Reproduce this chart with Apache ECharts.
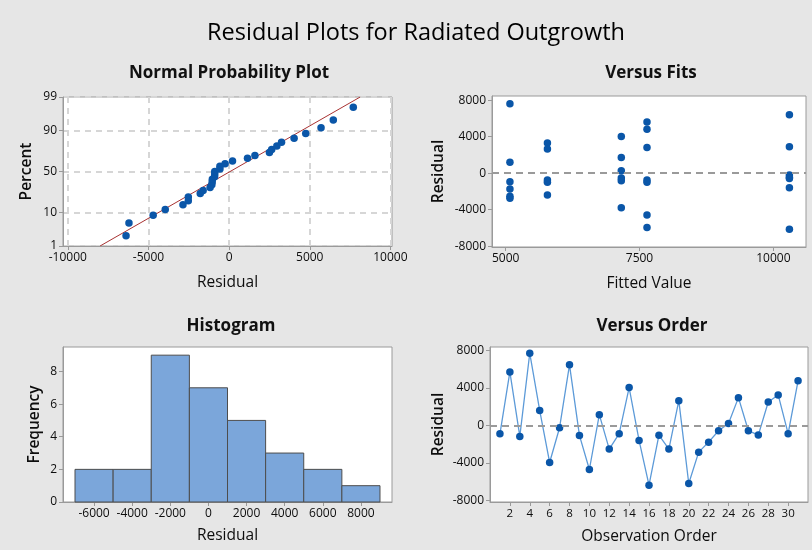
<!DOCTYPE html>
<html>
<head>
<meta charset="utf-8">
<script src="https://cdn.jsdelivr.net/npm/echarts@6/dist/echarts.min.js"></script>
<style>
html,body{margin:0;padding:0;background:#E6E6E6;}
#c{width:812px;height:550px;}
</style>
</head>
<body>
<div id="c"></div>
<script>
// ---- Data ----
// Residuals in observation order (1..31)
const orderResiduals = [-900, 5700, -1180, 7700, 1600, -3960, -250, 6460, -1070, -4710,
  1140, -2530, -890, 4030, -1610, -6390, -1050, -2530, 2640, -6210,
  -2860, -1790, -570, 210, 2960, -570, -1040, 2500, 3250, -890, 4750];
// Versus fits: fitted value and residual pairs
const fittedValues = [5080,5080,5080,5080,5080,5080,
  5780,5780,5780,5780,5780,
  7160,7160,7160,7160,7160,7160,
  7640,7640,7640,7640,7640,7640,7640,
  10300,10300,10300,10300,10300,10300,10300];
const fitResiduals = [7600,1200,-950,-1750,-2550,-2750,
  3300,2650,-750,-1000,-2400,
  4000,1700,250,-550,-850,-3800,
  5600,4800,2800,-750,-1000,-4600,-5950,
  6400,2900,-200,-450,-600,-1600,-6150];
// Histogram
const histBinStarts = [-7000,-5000,-3000,-1000,1000,3000,5000,7000];
const histBinWidth = 2000;
const histCounts = [2,2,9,7,5,3,2,1];
// Tick labels
const probTicks = [1,10,50,90,99];
const probXTicks = [-10000,-5000,0,5000,10000];
const fitsXTicks = [5000,7500,10000];
const residTicks = [-8000,-4000,0,4000,8000];
const histXTicks = [-6000,-4000,-2000,0,2000,4000,6000,8000];
const orderTicks = [2,4,6,8,10,12,14,16,18,20,22,24,26,28,30];

// ---- Helpers ----
function normInv(p){
  const a=[-3.969683028665376e+01,2.209460984245205e+02,-2.759285104469687e+02,1.383577518672690e+02,-3.066479806614716e+01,2.506628277459239e+00];
  const b=[-5.447609879822406e+01,1.615858368580409e+02,-1.556989798598866e+02,6.680131188771972e+01,-1.328068155288572e+01];
  const c=[-7.784894002430293e-03,-3.223964580411365e-01,-2.400758277161838e+00,-2.549732539343734e+00,4.374664141464968e+00,2.938163982698783e+00];
  const d=[7.784695709041462e-03,3.224671290700398e-01,2.445134137142996e+00,3.754408661907416e+00];
  const pl=0.02425, ph=1-pl; let q,r;
  if(p<pl){q=Math.sqrt(-2*Math.log(p));return (((((c[0]*q+c[1])*q+c[2])*q+c[3])*q+c[4])*q+c[5])/((((d[0]*q+d[1])*q+d[2])*q+d[3])*q+1);}
  if(p<=ph){q=p-0.5;r=q*q;return (((((a[0]*r+a[1])*r+a[2])*r+a[3])*r+a[4])*r+a[5])*q/(((((b[0]*r+b[1])*r+b[2])*r+b[3])*r+b[4])*r+1);}
  q=Math.sqrt(-2*Math.log(1-p));return -(((((c[0]*q+c[1])*q+c[2])*q+c[3])*q+c[4])*q+c[5])/((((d[0]*q+d[1])*q+d[2])*q+d[3])*q+1);
}
const n = orderResiduals.length;
const sorted = orderResiduals.slice().sort((x,y)=>x-y);
const probPoints = sorted.map((v,i)=>[v, normInv((i+1-0.3)/(n+0.4))]);
const mean = orderResiduals.reduce((s,v)=>s+v,0)/n;
const sd = Math.sqrt(orderResiduals.reduce((s,v)=>s+(v-mean)*(v-mean),0)/(n-1));
const zLo = normInv(0.01), zHi = normInv(0.99);
const zTicks = probTicks.map(p=>normInv(p/100));
const fitLine = [[mean+zLo*sd, zLo],[mean+zHi*sd, zHi]];
const fitsData = fittedValues.map((f,i)=>[f, fitResiduals[i]]);
const histData = histBinStarts.map((s,i)=>[s, s+histBinWidth, histCounts[i]]);
const orderData = orderResiduals.map((v,i)=>[i+1, v]);

const FONT = '"Open Sans", "Noto Sans", sans-serif';
const txt = '#0d0d0d';
const ptColor = '#0A56A8';
const plain = (v)=>String(Math.round(v));

function axisBase(extra, isY){
  return Object.assign({
    axisLine:{show:true, onZero:false, lineStyle:{color:'#9a9a9a', width:1}},
    axisTick:{show:true, inside:false, length:4, lineStyle:{color:'#9a9a9a'}},
    axisLabel:{color:txt, fontSize:12, fontFamily:FONT, margin:6, formatter:plain},
    splitLine:{show:false},
    nameTextStyle:{color:txt, fontSize:15.5, fontFamily:FONT, fontWeight: isY ? 600 : 'normal'},
    nameLocation:'middle'
  }, extra);
}
function deep(a,b){
  const o = Object.assign({}, a);
  for(const k in b){ if(b[k] && typeof b[k]==='object' && !Array.isArray(b[k]) && a[k] && typeof a[k]==='object'){ o[k]=Object.assign({}, a[k], b[k]); } else o[k]=b[k]; }
  return o;
}
const gridLine = {show:true, lineStyle:{color:'#D6D6D6', width:2, type:[6,5]}};
const zeroLine = {silent:true, symbol:'none', label:{show:false}, lineStyle:{color:'#9a9a9a', width:2, type:[7,5]}, data:[{yAxis:0}]};
const subTitle = {fontSize:17, fontWeight:'bold', color:'#111', fontFamily:FONT};

const chart = echarts.init(document.getElementById('c'), null, {renderer:'canvas'});
chart.setOption({
  backgroundColor:'#E6E6E6',
  animation:false,
  title:[
    {text:'Residual Plots for Radiated Outgrowth', left:411, top:16, textAlign:'center', textStyle:{fontSize:23.5, fontWeight:500, color:'#000', fontFamily:FONT}},
    {text:'Normal Probability Plot', left:224, top:60, textAlign:'center', textStyle:subTitle},
    {text:'Versus Fits', left:646, top:60, textAlign:'center', textStyle:subTitle},
    {text:'Histogram', left:226, top:313, textAlign:'center', textStyle:subTitle},
    {text:'Versus Order', left:647, top:313, textAlign:'center', textStyle:subTitle}
  ],
  grid:[
    {left:63, top:97, width:329, height:149, show:true, backgroundColor:'#fff', borderColor:'#9a9a9a', borderWidth:1},
    {left:492, top:96, width:314, height:151, show:true, backgroundColor:'#fff', borderColor:'#9a9a9a', borderWidth:1},
    {left:63, top:347, width:329, height:155, show:true, backgroundColor:'#fff', borderColor:'#9a9a9a', borderWidth:1},
    {left:490, top:347, width:318, height:155, show:true, backgroundColor:'#fff', borderColor:'#9a9a9a', borderWidth:1}
  ],
  xAxis:[
    deep(axisBase({gridIndex:0, type:'value', min:-10300, max:10100, name:'Residual', nameGap:29}),
      {axisLabel:{customValues:probXTicks}, axisTick:{customValues:probXTicks}, splitLine:gridLine}),
    deep(axisBase({gridIndex:1, type:'value', min:4745, max:10610, name:'Fitted Value', nameGap:29}),
      {axisLabel:{customValues:fitsXTicks}, axisTick:{customValues:fitsXTicks}}),
    deep(axisBase({gridIndex:2, type:'value', min:-7630, max:9630, name:'Residual', nameGap:26}),
      {axisLabel:{customValues:histXTicks}, axisTick:{customValues:histXTicks}}),
    deep(axisBase({gridIndex:3, type:'value', min:0, max:32, name:'Observation Order', nameGap:27}),
      {axisLabel:{customValues:orderTicks, fontSize:11.5}, axisTick:{customValues:orderTicks}})
  ],
  yAxis:[
    deep(axisBase({gridIndex:0, type:'value', min:zLo, max:zHi, name:'Percent', nameGap:28}, true),
      {axisLabel:{customValues:zTicks, formatter:(v)=>{const i=zTicks.findIndex(z=>Math.abs(z-v)<1e-6); return i>=0?String(probTicks[i]):'';}},
       axisTick:{customValues:zTicks}, splitLine:gridLine}),
    deep(axisBase({gridIndex:1, type:'value', min:-8100, max:8450, name:'Residual', nameGap:45}, true),
      {axisLabel:{customValues:residTicks}, axisTick:{customValues:residTicks}}),
    deep(axisBase({gridIndex:2, type:'value', min:0, max:9.5, interval:2, name:'Frequency', nameGap:20}, true),
      {axisLabel:{showMaxLabel:false}}),
    deep(axisBase({gridIndex:3, type:'value', min:-8180, max:8365, name:'Residual', nameGap:43}, true),
      {axisLabel:{customValues:residTicks}, axisTick:{customValues:residTicks}})
  ],
  series:[
    {type:'line', xAxisIndex:0, yAxisIndex:0, data:fitLine, symbol:'none', lineStyle:{color:'#A83232', width:1}, z:3},
    {type:'scatter', xAxisIndex:0, yAxisIndex:0, data:probPoints, symbolSize:7.5, itemStyle:{color:ptColor, opacity:1}, z:4},
    {type:'scatter', xAxisIndex:1, yAxisIndex:1, data:fitsData, symbolSize:7.5, itemStyle:{color:ptColor, opacity:1}, markLine:zeroLine, z:4},
    {type:'custom', xAxisIndex:2, yAxisIndex:2, data:histData, encode:{x:[0,1], y:2},
      renderItem:(params, api)=>{
        const p0 = api.coord([api.value(0), api.value(2)]);
        const p1 = api.coord([api.value(1), 0]);
        return {type:'rect', shape:{x:p0[0], y:p0[1], width:p1[0]-p0[0], height:p1[1]-p0[1]},
          style:{fill:'#7BA6DA', stroke:'#4d4d4d', lineWidth:1}};
      }},
    {type:'line', xAxisIndex:3, yAxisIndex:3, data:orderData, symbol:'circle', symbolSize:7.5,
      lineStyle:{color:'#5C9AD8', width:1.3}, itemStyle:{color:ptColor, opacity:1}, markLine:zeroLine, z:4}
  ]
});
</script>
</body>
</html>
